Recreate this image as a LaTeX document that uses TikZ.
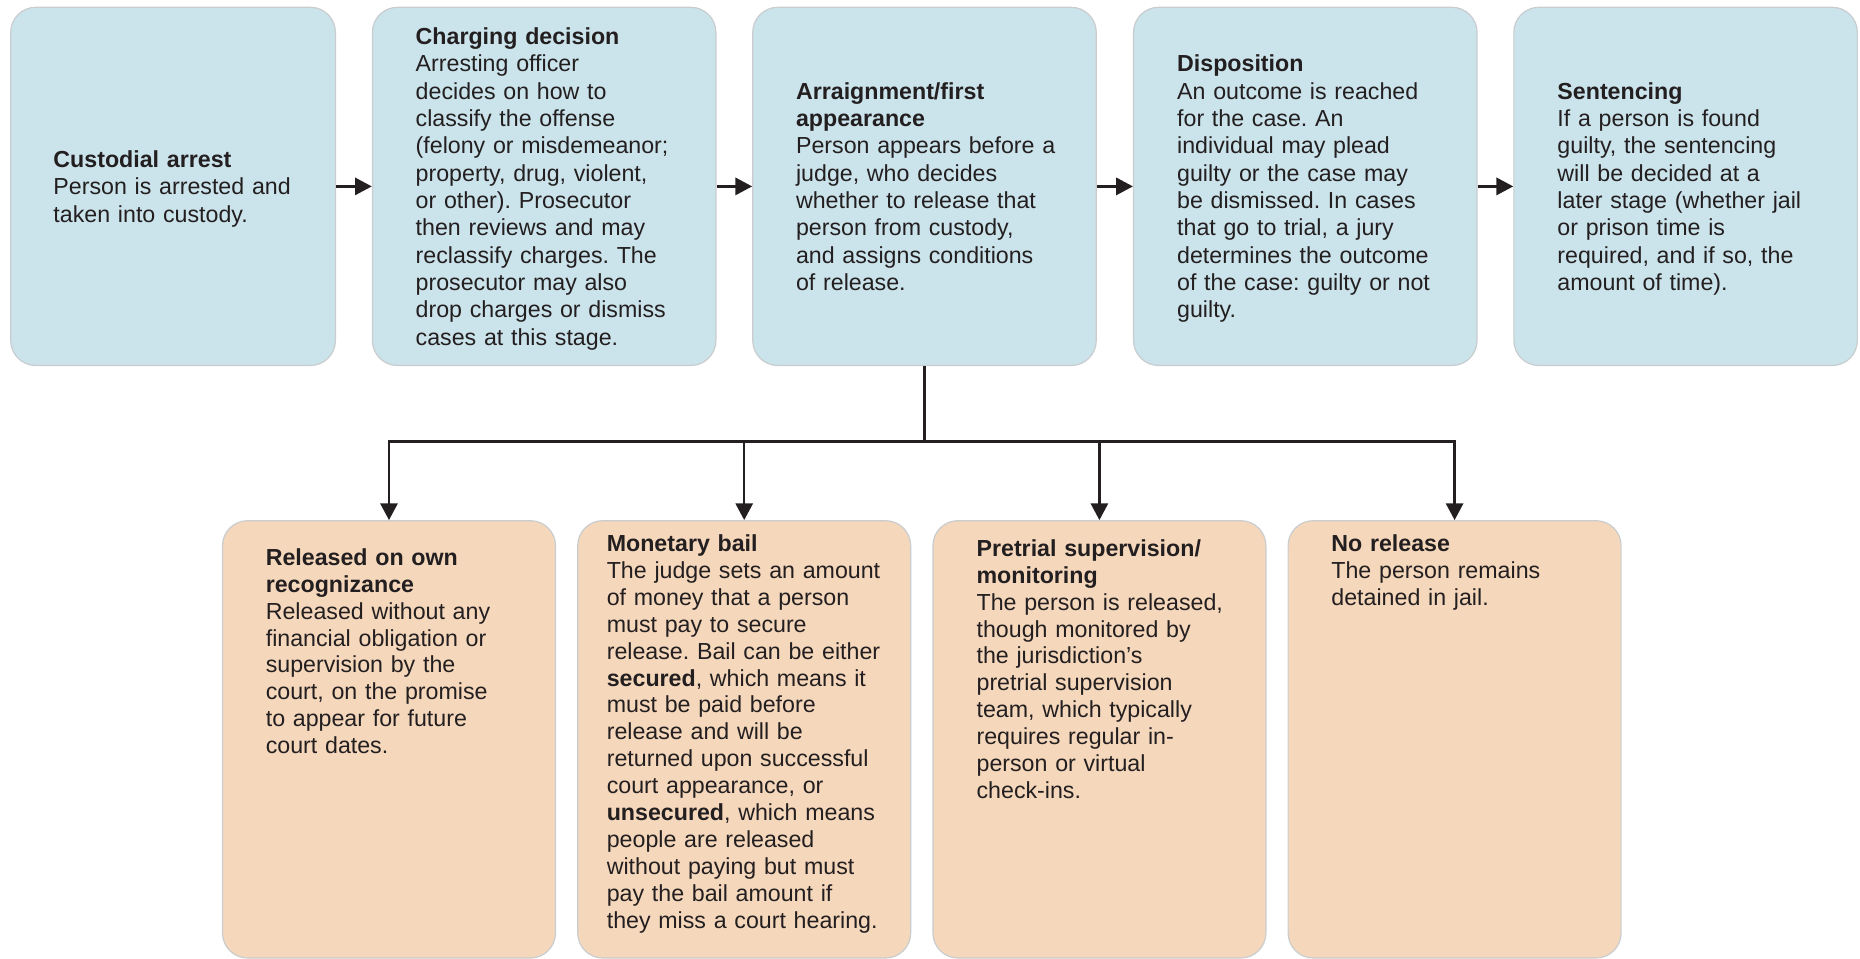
\documentclass[tikz,border=0pt]{standalone}
\usepackage{fontspec}
\setmainfont{Liberation Sans}
\usetikzlibrary{arrows.meta}

\definecolor{stageblue}{HTML}{CBE3EA}
\definecolor{releasepeach}{HTML}{F5D7BB}
\definecolor{edgegray}{HTML}{C9CDCF}
\definecolor{ink}{HTML}{231F20}

\begin{document}
\begin{tikzpicture}[x=0.5pt,y=-0.5pt,
  card/.style={draw=edgegray, line width=0.6pt, rounded corners=12.5pt, inner sep=0pt},
  stagebox/.style={card, fill=stageblue, minimum width=171.75pt, minimum height=179.1pt},
  outcomebox/.style={card, fill=releasepeach, minimum width=166.5pt, minimum height=218.65pt},
  cardtext/.style={inner sep=0pt, text width=145pt, align=left, text=ink,
    font=\fontsize{11.6pt}{13.45pt}\selectfont\frenchspacing},
  stagetext/.style={cardtext, anchor=west, yshift=-1.5pt,
    font=\fontsize{11.6pt}{13.68pt}\selectfont\frenchspacing},
  wire/.style={draw=ink, line width=1.25pt},
  flow/.style={wire, -{Triangle[length=8.4pt,width=8.6pt]}}
]
\useasboundingbox (0,0) rectangle (1860,959);

% ---- main stages ----
\node[stagebox, minimum width=162.35pt] (B1) at (173.05,186.4) {};
\node[stagebox] (B2) at (544.15,186.4) {};
\node[stagebox] (B3) at (924.5,186.4) {};
\node[stagebox] (B4) at (1305.3,186.4) {};
\node[stagebox] (B5) at (1685.6,186.4) {};

\node[stagetext] (T1) at ([xshift=21.5pt]B1.west)
  {\strut\textbf{Custodial arrest}\\Person is arrested and\\taken into custody.\strut};
\node[stagetext] (T2) at ([xshift=21.75pt]B2.west)
  {\strut\textbf{Charging decision}\\Arresting officer\\decides on how to\\classify the offense\\(felony or misdemeanor;\\property, drug, violent,\\or other). Prosecutor\\then reviews and may\\reclassify charges. The\\prosecutor may also\\drop charges or dismiss\\cases at this stage.\strut};
\node[stagetext] (T3) at ([xshift=21.75pt]B3.west)
  {\strut\textbf{Arraignment/first}\\\textbf{appearance}\\Person appears before a\\judge, who decides\\whether to release that\\person from custody,\\and assigns conditions\\of release.\strut};
\node[stagetext] (T4) at ([xshift=21.9pt]B4.west)
  {\strut\textbf{Disposition}\\An outcome is reached\\for the case. An\\individual may plead\\guilty or the case may\\be dismissed. In cases\\that go to trial, a jury\\determines the outcome\\of the case: guilty or not\\guilty.\strut};
\node[stagetext] (T5) at ([xshift=21.9pt]B5.west)
  {\strut\textbf{Sentencing}\\If a person is found\\guilty, the sentencing\\will be decided at a\\later stage (whether jail\\or prison time is\\required, and if so, the\\amount of time).\strut};

\draw[flow] (B1.east) -- (B2.west);
\draw[flow] (B2.east) -- (B3.west);
\draw[flow] (B3.east) -- (B4.west);
\draw[flow] (B4.east) -- (B5.west);

% ---- release outcomes ----
\node[outcomebox] (L1) at (389,739.35) {};
\node[outcomebox] (L2) at (744.2,739.35) {};
\node[outcomebox] (L3) at (1099.4,739.35) {};
\node[outcomebox] (L4) at (1454.6,739.35) {};

\node[cardtext, anchor=north west] (U1) at ([xshift=21.75pt,yshift=-13pt]L1.north west)
  {\strut\textbf{Released on own}\\\textbf{recognizance}\\Released without any\\financial obligation or\\supervision by the\\court, on the promise\\to appear for future\\court dates.\strut};
\node[cardtext, anchor=north west] (U2) at ([xshift=14.65pt,yshift=-6.1pt]L2.north west)
  {\strut\textbf{Monetary bail}\\The judge sets an amount\\of money that a person\\must pay to secure\\release. Bail can be either\\\textbf{secured}, which means it\\must be paid before\\release and will be\\returned upon successful\\court appearance, or\\\textbf{unsecured}, which means\\people are released\\without paying but must\\pay the bail amount if\\they miss a court hearing.\strut};
\node[cardtext, anchor=north west] (U3) at ([xshift=21.95pt,yshift=-8.5pt]L3.north west)
  {\strut\textbf{Pretrial supervision/}\\\textbf{monitoring}\\The person is released,\\though monitored by\\the jurisdiction’s\\pretrial supervision\\team, which typically\\requires regular in-\\person or virtual\\check-ins.\strut};
\node[cardtext, anchor=north west] (U4) at ([xshift=21.75pt,yshift=-6.1pt]L4.north west)
  {\strut\textbf{No release}\\The person remains\\detained in jail.\strut};

% ---- branching from the first appearance ----
\coordinate (bus) at (924.5,441.7);
\draw[wire] (B3.south) -- (bus);
\foreach \n in {L1,L2,L3,L4}
  \draw[flow] (bus) -| (\n.north);
\end{tikzpicture}
\end{document}
